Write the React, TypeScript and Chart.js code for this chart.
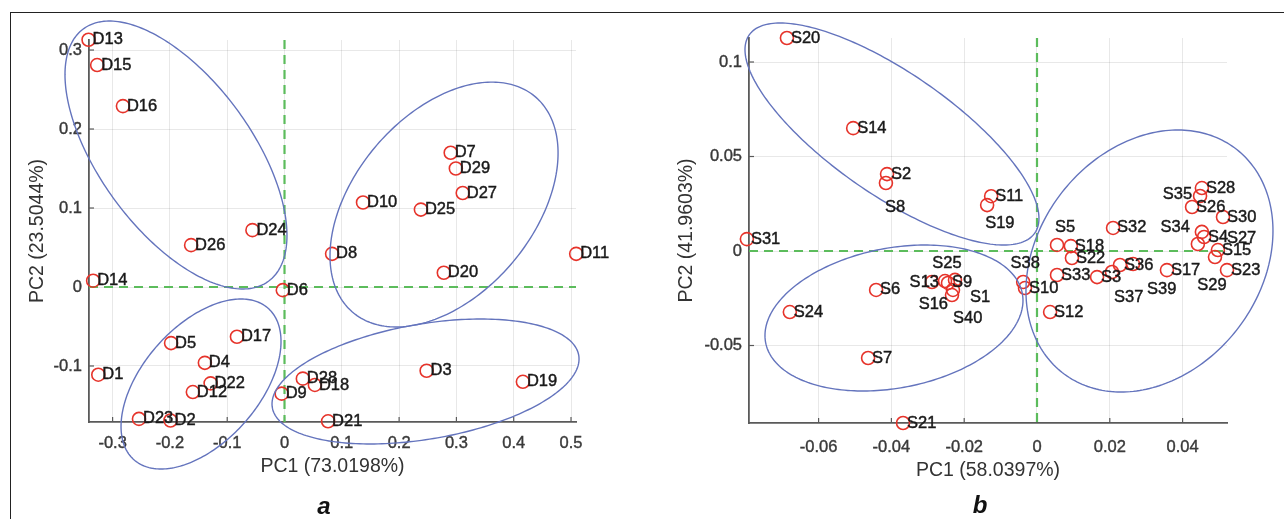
import React, { useEffect, useRef } from "react";
import { Chart, registerables } from "chart.js";
Chart.register(...registerables);

const FONT = '"Liberation Sans", Arial, Helvetica, sans-serif';

// ---------- Panel a ----------
const namesA = ["D1","D2","D3","D4","D5","D6","D7","D8","D9","D10","D11","D12","D13","D14","D15","D16","D17","D18","D19","D20","D21","D22","D23","D24","D25","D26","D27","D28","D29"];
const pc1A = [-0.325,-0.199,0.248,-0.139,-0.198,-0.003,0.290,0.083,-0.005,0.137,0.509,-0.160,-0.342,-0.334,-0.327,-0.282,-0.083,0.053,0.416,0.278,0.076,-0.129,-0.254,-0.056,0.238,-0.163,0.311,0.032,0.299];
const pc2A = [-0.111,-0.169,-0.106,-0.096,-0.071,-0.004,0.170,0.042,-0.135,0.107,0.042,-0.133,0.313,0.008,0.281,0.229,-0.063,-0.124,-0.120,0.018,-0.170,-0.122,-0.167,0.072,0.098,0.053,0.119,-0.116,0.150];
const xTicksA = [-0.3,-0.2,-0.1,0,0.1,0.2,0.3,0.4,0.5];
const yTicksA = [-0.1,0,0.1,0.2,0.3];
const xRangeA = [-0.3412, 0.5087];
const yRangeA = [-0.1709, 0.3127];
// group ellipses: centre, half-extent, correlation
const ellCxA = [-0.1894, 0.2784, -0.1457, 0.2461];
const ellCyA = [0.1671, 0.1044, -0.1228, -0.1196];
const ellHxA = [0.1937, 0.199, 0.1396, 0.2679];
const ellHyA = [0.1696, 0.155, 0.1076, 0.0791];
const ellRhoA = [-0.6, 0.42, 0.5, 0.36];

// ---------- Panel b ----------
const namesB = ["S1","S2","S3","S4","S5","S6","S7","S8","S9","S10","S11","S12","S13","S14","S15","S16","S17","S18","S19","S20","S21","S22","S23","S24","S25","S26","S27","S28","S29","S30","S31","S32","S33","S34","S35","S36","S37","S38","S39","S40"];
const pc1B = [-0.02253,-0.0412,0.0165,0.0459,0.0055,-0.0442,-0.0464,-0.0415,-0.02445,-0.0033,-0.0126,0.0036,-0.02885,-0.0505,0.0497,-0.02308,0.0357,0.0093,-0.0137,-0.0687,-0.0368,0.0096,0.0522,-0.0679,-0.02527,0.0426,0.0442,0.0453,0.0489,0.0511,-0.0797,0.0209,0.0055,0.0453,0.0448,0.0228,0.0206,-0.0038,0.0264,-0.02335];
const pc2B = [-0.0153,0.0407,-0.0138,0.0074,0.0032,-0.0206,-0.0566,0.036,-0.0169,-0.0196,0.029,-0.0323,-0.0164,0.065,0.0005,-0.0206,-0.0101,0.0026,0.0243,0.1127,-0.091,-0.0037,-0.0101,-0.0323,-0.0159,0.0233,0.0037,0.0333,-0.0032,0.018,0.0063,0.0122,-0.0127,0.0101,0.0291,-0.0074,-0.0111,-0.0164,-0.0069,-0.0233];
const xTicksB = [-0.06,-0.04,-0.02,0,0.02,0.04];
const yTicksB = [-0.05,0,0.05,0.1];
const xRangeB = [-0.07912, 0.0522];
const yRangeB = [-0.091, 0.1127];
const ellCxB = [-0.03984, -0.03929, 0.0309];
const ellCyB = [0.0619, -0.03545, -0.00529];
const ellHxB = [0.04038, 0.03544, 0.03393];
const ellHyB = [0.05873, 0.03862, 0.06931];
const ellRhoB = [-0.76, 0.24, 0.23];

// label placement (text layout only): [align, dx, dy] in px
const labelPlaceB: Record<string, [CanvasTextAlign, number, number]> = {
  S8: ["left", -1, 24],
  S19: ["left", -2, 18],
  S35: ["right", -8, -2],
  S34: ["right", -12, -4],
  S27: ["left", 29, -6],
  S29: ["center", -3, 28],
  S37: ["left", 2, 25],
  S39: ["left", 14, 25],
  S38: ["center", 2, -19],
  S25: ["center", 2, -18],
  S13: ["right", 7, 0],
  S16: ["right", -5, 15],
  S1: ["left", 15, 18],
  S40: ["left", 1, 23],
  S5: ["left", -2, -18],
};

type PanelCfg = {
  names: string[];
  xs: number[];
  ys: number[];
  xTicks: number[];
  yTicks: number[];
  xRange: number[];
  yRange: number[];
  ell: { cx: number[]; cy: number[]; hx: number[]; hy: number[]; rho: number[] };
  place: Record<string, [CanvasTextAlign, number, number]>;
  xTitle: string;
  yTitle: string;
  padding: { left: number; top: number; right: number; bottom: number };
  yWidth: number;
  xHeight: number;
  yTitlePad: number;
  xTickPad: number;
};

const fmt = (v: number) => String(Number(v.toFixed(4)));

function makeDecor(cfg: PanelCfg) {
  return {
    id: "pcaDecor",
    beforeDatasetsDraw(chart: any) {
      const { ctx, chartArea } = chart;
      const xs = chart.scales.x;
      const ys = chart.scales.y;
      ctx.save();
      // inward tick marks
      ctx.strokeStyle = "#595959";
      ctx.lineWidth = 1.2;
      cfg.xTicks.forEach((v) => {
        const px = xs.getPixelForValue(v);
        ctx.beginPath();
        ctx.moveTo(px, chartArea.bottom);
        ctx.lineTo(px, chartArea.bottom - 5);
        ctx.stroke();
      });
      cfg.yTicks.forEach((v) => {
        const py = ys.getPixelForValue(v);
        ctx.beginPath();
        ctx.moveTo(chartArea.left, py);
        ctx.lineTo(chartArea.left + 5, py);
        ctx.stroke();
      });
      // zero reference lines
      ctx.strokeStyle = "#5cbc5c";
      ctx.lineWidth = 2.2;
      ctx.setLineDash([9, 6]);
      const x0 = xs.getPixelForValue(0);
      const y0 = ys.getPixelForValue(0);
      ctx.beginPath();
      ctx.moveTo(x0, chartArea.top);
      ctx.lineTo(x0, chartArea.bottom);
      ctx.stroke();
      ctx.beginPath();
      ctx.moveTo(chartArea.left, y0);
      ctx.lineTo(chartArea.right, y0);
      ctx.stroke();
      ctx.restore();
    },
    afterDatasetsDraw(chart: any) {
      const { ctx } = chart;
      const xs = chart.scales.x;
      const ys = chart.scales.y;
      const meta = chart.getDatasetMeta(0);
      ctx.save();
      // ellipses
      ctx.strokeStyle = "#6474bd";
      ctx.lineWidth = 1.4;
      const e = cfg.ell;
      for (let k = 0; k < e.cx.length; k++) {
        const d = Math.acos(e.rho[k]);
        ctx.beginPath();
        for (let i = 0; i <= 240; i++) {
          const t = (i / 240) * Math.PI * 2;
          const vx = e.cx[k] + e.hx[k] * Math.cos(t);
          const vy = e.cy[k] + e.hy[k] * Math.cos(t - d);
          const px = xs.getPixelForValue(vx);
          const py = ys.getPixelForValue(vy);
          if (i === 0) ctx.moveTo(px, py);
          else ctx.lineTo(px, py);
        }
        ctx.closePath();
        ctx.stroke();
      }
      // labels
      ctx.font = `16.5px ${FONT}`;
      ctx.fillStyle = "#1a1a1a";
      ctx.strokeStyle = "#1a1a1a";
      ctx.lineWidth = 0.45;
      ctx.textBaseline = "middle";
      meta.data.forEach((pt: any, i: number) => {
        const name = cfg.names[i];
        const pl = cfg.place[name] || ["left", 4, 0];
        ctx.textAlign = pl[0];
        ctx.fillText(name, pt.x + pl[1], pt.y + pl[2]);
        ctx.strokeText(name, pt.x + pl[1], pt.y + pl[2]);
      });
      ctx.restore();
    },
  };
}

function buildChart(canvas: HTMLCanvasElement, cfg: PanelCfg) {
  const tickFont = { family: FONT, size: 16.5, lineHeight: 1.2 };
  const titleFont = { family: FONT, size: 19.5, lineHeight: 1.2 };
  return new Chart(canvas, {
    type: "scatter",
    data: {
      datasets: [
        {
          data: cfg.xs.map((x, i) => ({ x, y: cfg.ys[i] })),
          pointRadius: 6.5,
          pointHoverRadius: 6.5,
          pointStyle: "circle",
          borderColor: "#e6332a",
          backgroundColor: "rgba(0,0,0,0)",
          borderWidth: 1.6,
          clip: false as any,
        },
      ],
    },
    options: {
      responsive: false,
      animation: false,
      events: [],
      layout: { padding: cfg.padding },
      plugins: { legend: { display: false }, tooltip: { enabled: false } },
      scales: {
        x: {
          type: "linear",
          position: "bottom",
          min: cfg.xRange[0],
          max: cfg.xRange[1],
          afterBuildTicks: (s: any) => {
            s.ticks = cfg.xTicks.map((v) => ({ value: v }));
          },
          afterFit: (s: any) => {
            s.height = cfg.xHeight;
          },
          ticks: {
            callback: (v: any) => fmt(Number(v)),
            font: tickFont,
            color: "#3a3a3a",
            textStrokeColor: "#3a3a3a",
            textStrokeWidth: 0.4,
            padding: cfg.xTickPad,
            maxRotation: 0,
            autoSkip: false,
          },
          grid: { color: "rgba(0,0,0,0.09)", drawTicks: false, lineWidth: 1 },
          border: { display: true, color: "#5a5a5a", width: 1.8 },
          title: { display: true, text: cfg.xTitle, font: titleFont, color: "#333", padding: 0 },
        },
        y: {
          type: "linear",
          position: "left",
          min: cfg.yRange[0],
          max: cfg.yRange[1],
          afterBuildTicks: (s: any) => {
            s.ticks = cfg.yTicks.map((v) => ({ value: v }));
          },
          afterFit: (s: any) => {
            s.width = cfg.yWidth;
          },
          ticks: {
            callback: (v: any) => fmt(Number(v)),
            font: tickFont,
            color: "#3a3a3a",
            textStrokeColor: "#3a3a3a",
            textStrokeWidth: 0.4,
            padding: 7,
            autoSkip: false,
          },
          grid: { color: "rgba(0,0,0,0.09)", drawTicks: false, lineWidth: 1 },
          border: { display: true, color: "#5a5a5a", width: 1.8 },
          title: {
            display: true,
            text: cfg.yTitle,
            font: titleFont,
            color: "#333",
            padding: { top: cfg.yTitlePad, bottom: 0 },
          },
        },
      },
    } as any,
    plugins: [makeDecor(cfg) as any],
  });
}

const cfgA: PanelCfg = {
  names: namesA,
  xs: pc1A,
  ys: pc2A,
  xTicks: xTicksA,
  yTicks: yTicksA,
  xRange: xRangeA,
  yRange: yRangeA,
  ell: { cx: ellCxA, cy: ellCyA, hx: ellHxA, hy: ellHyA, rho: ellRhoA },
  place: {},
  xTitle: "PC1 (73.0198%)",
  yTitle: "PC2 (23.5044%)",
  padding: { left: 0, top: 40, right: 66, bottom: 40.3 },
  yWidth: 89,
  xHeight: 56.7,
  yTitlePad: 26,
  xTickPad: 12,
};

const cfgB: PanelCfg = {
  names: namesB,
  xs: pc1B,
  ys: pc2B,
  xTicks: xTicksB,
  yTicks: yTicksB,
  xRange: xRangeB,
  yRange: yRangeB,
  ell: { cx: ellCxB, cy: ellCyB, hx: ellHxB, hy: ellHyB, rho: ellRhoB },
  place: labelPlaceB,
  xTitle: "PC1 (58.0397%)",
  yTitle: "PC2 (41.9603%)",
  padding: { left: 0, top: 38, right: 57, bottom: 36.3 },
  yWidth: 107,
  xHeight: 59.7,
  yTitlePad: 33,
  xTickPad: 15,
};

export default function App() {
  const refA = useRef<HTMLCanvasElement>(null);
  const refB = useRef<HTMLCanvasElement>(null);
  useEffect(() => {
    const a = buildChart(refA.current!, cfgA);
    const b = buildChart(refB.current!, cfgB);
    return () => {
      a.destroy();
      b.destroy();
    };
  }, []);
  const letter: React.CSSProperties = {
    position: "absolute",
    font: `italic bold 24px ${FONT}`,
    color: "#111",
    lineHeight: "24px",
    transform: "translate(-50%, -50%)",
  };
  return (
    <div style={{ position: "absolute", left: 0, top: 0, width: 1284, height: 519, background: "#fff", overflow: "hidden" }}>
      <div
        style={{
          position: "absolute",
          left: 10,
          top: 12,
          width: 1320,
          height: 560,
          borderLeft: "1.5px solid #222",
          borderTop: "1.5px solid #222",
        }}
      />
      <canvas ref={refA} width={642} height={519} style={{ position: "absolute", left: 0, top: 0 }} />
      <canvas ref={refB} width={642} height={519} style={{ position: "absolute", left: 642, top: 0 }} />
      <div style={{ ...letter, left: 324, top: 506 }}>a</div>
      <div style={{ ...letter, left: 980, top: 505 }}>b</div>
    </div>
  );
}
